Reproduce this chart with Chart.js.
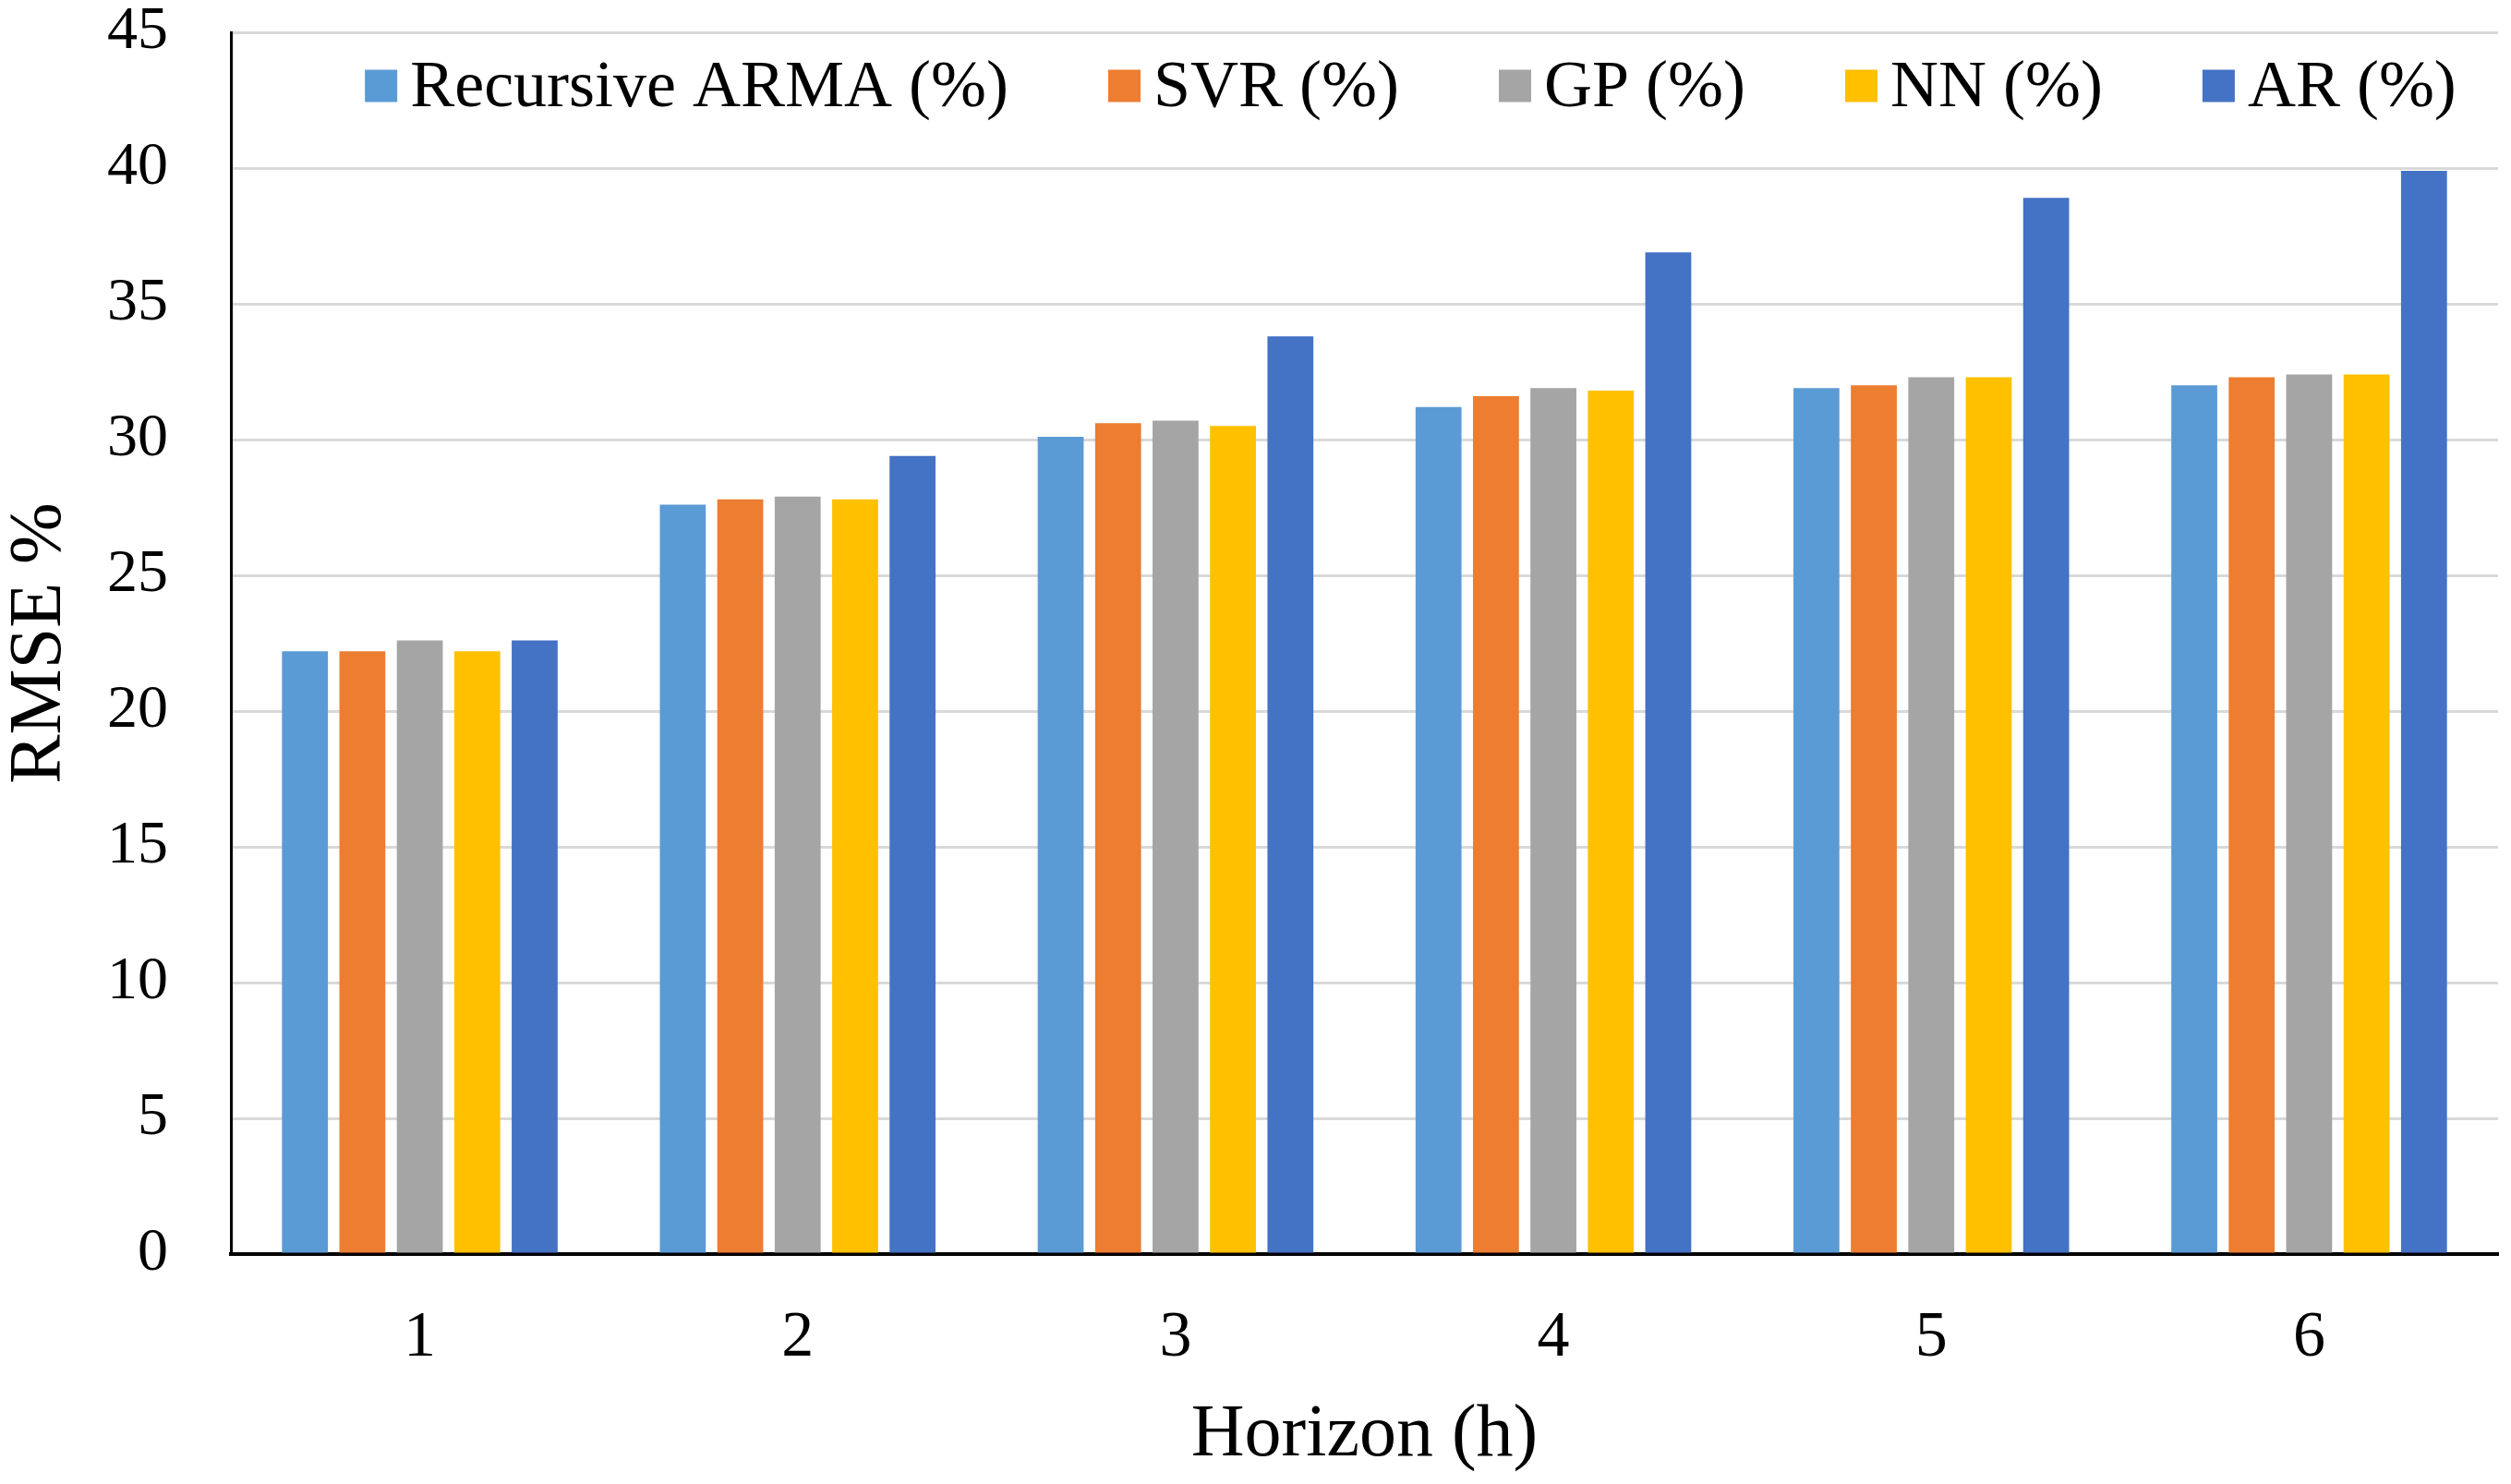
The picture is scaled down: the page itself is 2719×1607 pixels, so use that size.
<!DOCTYPE html>
<html>
<head>
<meta charset="utf-8">
<script src="https://cdn.jsdelivr.net/npm/chart.js@4.4.1/dist/chart.umd.min.js"></script>
<style>
  html, body { margin: 0; padding: 0; background: #ffffff; }
  #wrap { width: 2719px; height: 1607px; }
</style>
</head>
<body>
<div id="wrap"><canvas id="c" width="2719" height="1607"></canvas></div>
<script>
const categories = ['1', '2', '3', '4', '5', '6'];
const seriesNames = ['Recursive ARMA (%)', 'SVR (%)', 'GP (%)', 'NN (%)', 'AR (%)'];
const recursiveArma = [22.2, 27.6, 30.1, 31.2, 31.9, 32.0];
const svr = [22.2, 27.8, 30.6, 31.6, 32.0, 32.3];
const gp = [22.6, 27.9, 30.7, 31.9, 32.3, 32.4];
const nn = [22.2, 27.8, 30.5, 31.8, 32.3, 32.4];
const ar = [22.6, 29.4, 33.8, 36.9, 38.9, 39.9];
const seriesColors = ['#5B9BD5', '#ED7D31', '#A5A5A5', '#FFC000', '#4472C4'];
const yMin = 0, yMax = 45, yStep = 5;
const xTitle = 'Horizon (h)';
const yTitle = 'RMSE %';

const FONT = '"Liberation Serif", "Times New Roman", serif';
const seriesValues = [recursiveArma, svr, gp, nn, ar];

const legendPlugin = {
  id: 'insideLegend',
  afterDraw(chart) {
    const ctx = chart.ctx;
    const ds = chart.data.datasets;
    const area = chart.chartArea;
    ctx.save();
    ctx.font = '72px ' + FONT;
    const box = 35, gapBT = 14, gapItem = 108;
    const widths = ds.map(d => box + gapBT + ctx.measureText(d.label).width);
    const total = widths.reduce((a, b) => a + b, 0) + gapItem * (ds.length - 1);
    let x = (area.left + area.right) / 2 + 50 - total / 2;
    const yc = area.top + 58;
    ds.forEach((d, i) => {
      ctx.fillStyle = d.backgroundColor;
      ctx.fillRect(x, yc - box / 2, box, box);
      ctx.fillStyle = '#000000';
      ctx.textBaseline = 'middle';
      ctx.textAlign = 'left';
      ctx.fillText(d.label, x + box + gapBT, yc + 3);
      x += widths[i] + gapItem;
    });
    ctx.restore();
  }
};

new Chart(document.getElementById('c'), {
  type: 'bar',
  data: {
    labels: categories,
    datasets: seriesNames.map((name, i) => ({
      label: name,
      data: seriesValues[i],
      backgroundColor: seriesColors[i],
      borderWidth: 0,
      categoryPercentage: 0.76,
      barPercentage: 0.80
    }))
  },
  options: {
    responsive: false,
    devicePixelRatio: 1,
    animation: false,
    layout: { padding: { top: 35, right: 14, left: 0, bottom: 0 } },
    plugins: {
      legend: { display: false },
      tooltip: { enabled: false },
      title: { display: false }
    },
    scales: {
      x: {
        grid: { display: false, drawTicks: false },
        border: { display: true, color: '#000000', width: 4 },
        ticks: {
          color: '#000000',
          font: { family: FONT, size: 70, lineHeight: 1.2 },
          padding: 50
        },
        title: {
          display: true,
          text: xTitle,
          color: '#000000',
          font: { family: FONT, size: 80, lineHeight: 1.1 },
          padding: { top: 0, bottom: 8 }
        },
        afterFit(scale) {
          scale.height = 249;
          scale.paddingLeft = 0;
          scale.paddingRight = 0;
        }
      },
      y: {
        min: yMin,
        max: yMax,
        grid: { color: '#D9D9D9', lineWidth: 3, drawTicks: false },
        border: { display: true, color: '#000000', width: 3 },
        ticks: {
          stepSize: yStep,
          color: '#000000',
          font: { family: FONT, size: 66, lineHeight: 1.0 },
          padding: 68
        },
        title: {
          display: true,
          text: yTitle,
          color: '#000000',
          font: { family: FONT, size: 80, lineHeight: 1.1 },
          padding: { top: 0, bottom: 0 }
        },
        afterFit(scale) {
          scale.width = 250;
          scale.paddingTop = 0;
          scale.paddingBottom = 0;
        }
      }
    }
  },
  plugins: [legendPlugin]
});
</script>
</body>
</html>
